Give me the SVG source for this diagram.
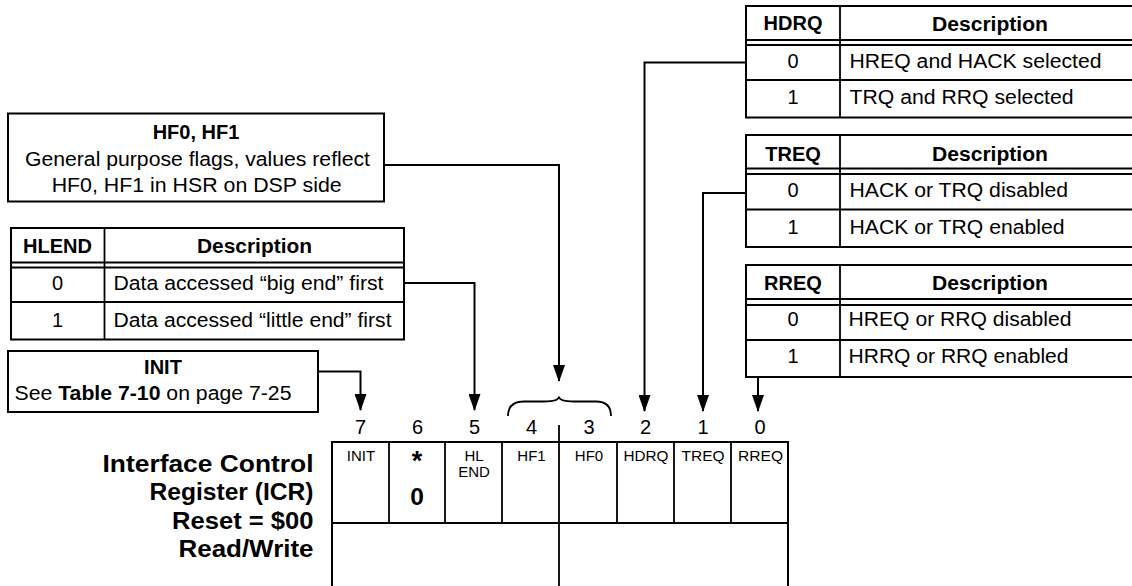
<svg xmlns="http://www.w3.org/2000/svg" width="1132" height="586" viewBox="0 0 1132 586">
<defs>
<style>
text{font-family:"Liberation Sans",Arial,Helvetica,sans-serif;fill:#000;font-size:20px}
.b{font-weight:bold}
.c{text-anchor:middle}
.e{text-anchor:end}
.sm{font-size:15px}
.num{font-size:20px}
.ast{font-size:27px}
.zero{font-size:24.5px}
.lbl{font-size:23.5px;font-weight:bold}
.box{fill:#fff;stroke:#000;stroke-width:2}
.ln{stroke:#000;stroke-width:1.8;fill:none}
.cn{stroke:#000;stroke-width:2;fill:none;marker-end:url(#ah)}
</style>
<marker id="ah" viewBox="0 0 17 12" markerWidth="17" markerHeight="12" refX="16" refY="6" orient="auto" markerUnits="userSpaceOnUse"><path d="M0,0 L17,6 L0,12 z" fill="#000"/></marker>
</defs>
<rect x="0" y="0" width="1132" height="586" fill="#fff"/>

<g id="connectors">
<path class="cn" d="M384,165 H559 V381"/>
<path class="cn" d="M404,283 H474.5 V410"/>
<path class="cn" d="M318,371.5 H360.5 V410"/>
<path class="cn" d="M746,62.5 H644.5 V411"/>
<path class="cn" d="M746,193 H703 V411"/>
<path class="cn" d="M758,377 V411"/>
<path class="ln" d="M508,416 C508,406 514,401.5 524,401.5 H544 C553,401.5 559,400 559,396.5 C559,400 565,401.5 574,401.5 H596 C605,401.5 611,406 611,416"/>
</g>

<g id="hf-box">
<rect class="box" x="8" y="113.5" width="376" height="88"/>
<text class="b c" x="196" y="139">HF0, HF1</text>
<text class="c" x="197.5" y="166" textLength="345" lengthAdjust="spacingAndGlyphs">General purpose flags, values reflect</text>
<text class="c" x="196.7" y="192" textLength="290" lengthAdjust="spacingAndGlyphs">HF0, HF1 in HSR on DSP side</text>
</g>

<g id="hlend-table">
<rect class="box" x="11" y="228" width="393" height="111.5"/>
<path class="ln" d="M11,262.5 H404 M11,267.5 H404 M11,302 H404 M104.5,228 V339.5"/>
<text class="b c" x="57.5" y="253">HLEND</text>
<text class="b c" x="254.5" y="253" textLength="115" lengthAdjust="spacingAndGlyphs">Description</text>
<text class="c" x="57.5" y="289.5">0</text>
<text x="113.5" y="289.5" textLength="270" lengthAdjust="spacingAndGlyphs">Data accessed “big end” first</text>
<text class="c" x="57.5" y="327">1</text>
<text x="113.5" y="327" textLength="278" lengthAdjust="spacingAndGlyphs">Data accessed “little end” first</text>
</g>

<g id="init-box">
<rect class="box" x="8" y="351" width="310" height="61"/>
<text class="b c" x="163" y="374">INIT</text>
<text x="14.5" y="400" textLength="277" lengthAdjust="spacingAndGlyphs">See <tspan class="b">Table 7-10</tspan> on page 7-25</text>
</g>

<g id="hdrq-table">
<rect class="box" x="746" y="6" width="400" height="111.5"/>
<path class="ln" d="M746,40 H1140 M746,45 H1140 M746,80 H1140 M840,6 V117.5"/>
<text class="b c" x="793" y="30">HDRQ</text>
<text class="b c" x="990" y="30.5" textLength="116" lengthAdjust="spacingAndGlyphs">Description</text>
<text class="c" x="793" y="68">0</text>
<text x="849.5" y="68" textLength="252" lengthAdjust="spacingAndGlyphs">HREQ and HACK selected</text>
<text class="c" x="793" y="104">1</text>
<text x="849.5" y="104" textLength="224" lengthAdjust="spacingAndGlyphs">TRQ and RRQ selected</text>
</g>

<g id="treq-table">
<rect class="box" x="746" y="135" width="400" height="112"/>
<path class="ln" d="M746,168.5 H1140 M746,174 H1140 M746,209.5 H1140 M840,135 V247"/>
<text class="b c" x="793" y="160.5">TREQ</text>
<text class="b c" x="990" y="160.5" textLength="116" lengthAdjust="spacingAndGlyphs">Description</text>
<text class="c" x="793" y="197">0</text>
<text x="849.5" y="197" textLength="218.5" lengthAdjust="spacingAndGlyphs">HACK or TRQ disabled</text>
<text class="c" x="793" y="234">1</text>
<text x="849.5" y="234" textLength="215" lengthAdjust="spacingAndGlyphs">HACK or TRQ enabled</text>
</g>

<g id="rreq-table">
<rect class="box" x="746" y="265" width="400" height="112"/>
<path class="ln" d="M746,299 H1140 M746,305 H1140 M746,340 H1140 M840,265 V377"/>
<text class="b c" x="793" y="289.5">RREQ</text>
<text class="b c" x="990" y="289.5" textLength="116" lengthAdjust="spacingAndGlyphs">Description</text>
<text class="c" x="793" y="326">0</text>
<text x="848.5" y="326" textLength="223" lengthAdjust="spacingAndGlyphs">HREQ or RRQ disabled</text>
<text class="c" x="793" y="363">1</text>
<text x="848.5" y="363" textLength="220" lengthAdjust="spacingAndGlyphs">HRRQ or RRQ enabled</text>
</g>

<g id="register-label">
<text class="lbl e" x="313.5" y="471.5" textLength="211" lengthAdjust="spacingAndGlyphs">Interface Control</text>
<text class="lbl e" x="313.5" y="500" textLength="164" lengthAdjust="spacingAndGlyphs">Register (ICR)</text>
<text class="lbl e" x="313.5" y="528.5" textLength="141.5" lengthAdjust="spacingAndGlyphs">Reset = $00</text>
<text class="lbl e" x="313.5" y="557" textLength="135" lengthAdjust="spacingAndGlyphs">Read/Write</text>
</g>

<g id="register">
<rect class="box" x="332" y="442" width="456" height="160"/>
<path class="ln" stroke-width="2" d="M332,523 H788 M389,442 V523 M445,442 V523 M502,442 V523 M617,442 V523 M674,442 V523 M731,442 V523 M559,425 V600"/>
<text class="num c" x="360.5" y="434">7</text>
<text class="num c" x="417.5" y="434">6</text>
<text class="num c" x="474.5" y="434">5</text>
<text class="num c" x="531.5" y="434">4</text>
<text class="num c" x="589" y="434">3</text>
<text class="num c" x="645.5" y="434">2</text>
<text class="num c" x="703" y="434">1</text>
<text class="num c" x="760" y="434">0</text>
<text class="sm c" x="361" y="461">INIT</text>
<text class="b c ast" x="417" y="470">*</text>
<text class="b c zero" x="417" y="504.5">0</text>
<text class="sm c" x="474" y="461">HL</text>
<text class="sm c" x="474" y="476.5">END</text>
<text class="sm c" x="531.5" y="461">HF1</text>
<text class="sm c" x="589" y="461">HF0</text>
<text class="sm c" x="646" y="461" textLength="45" lengthAdjust="spacingAndGlyphs">HDRQ</text>
<text class="sm c" x="703" y="461" textLength="43" lengthAdjust="spacingAndGlyphs">TREQ</text>
<text class="sm c" x="760.5" y="461" textLength="45" lengthAdjust="spacingAndGlyphs">RREQ</text>
</g>
</svg>
